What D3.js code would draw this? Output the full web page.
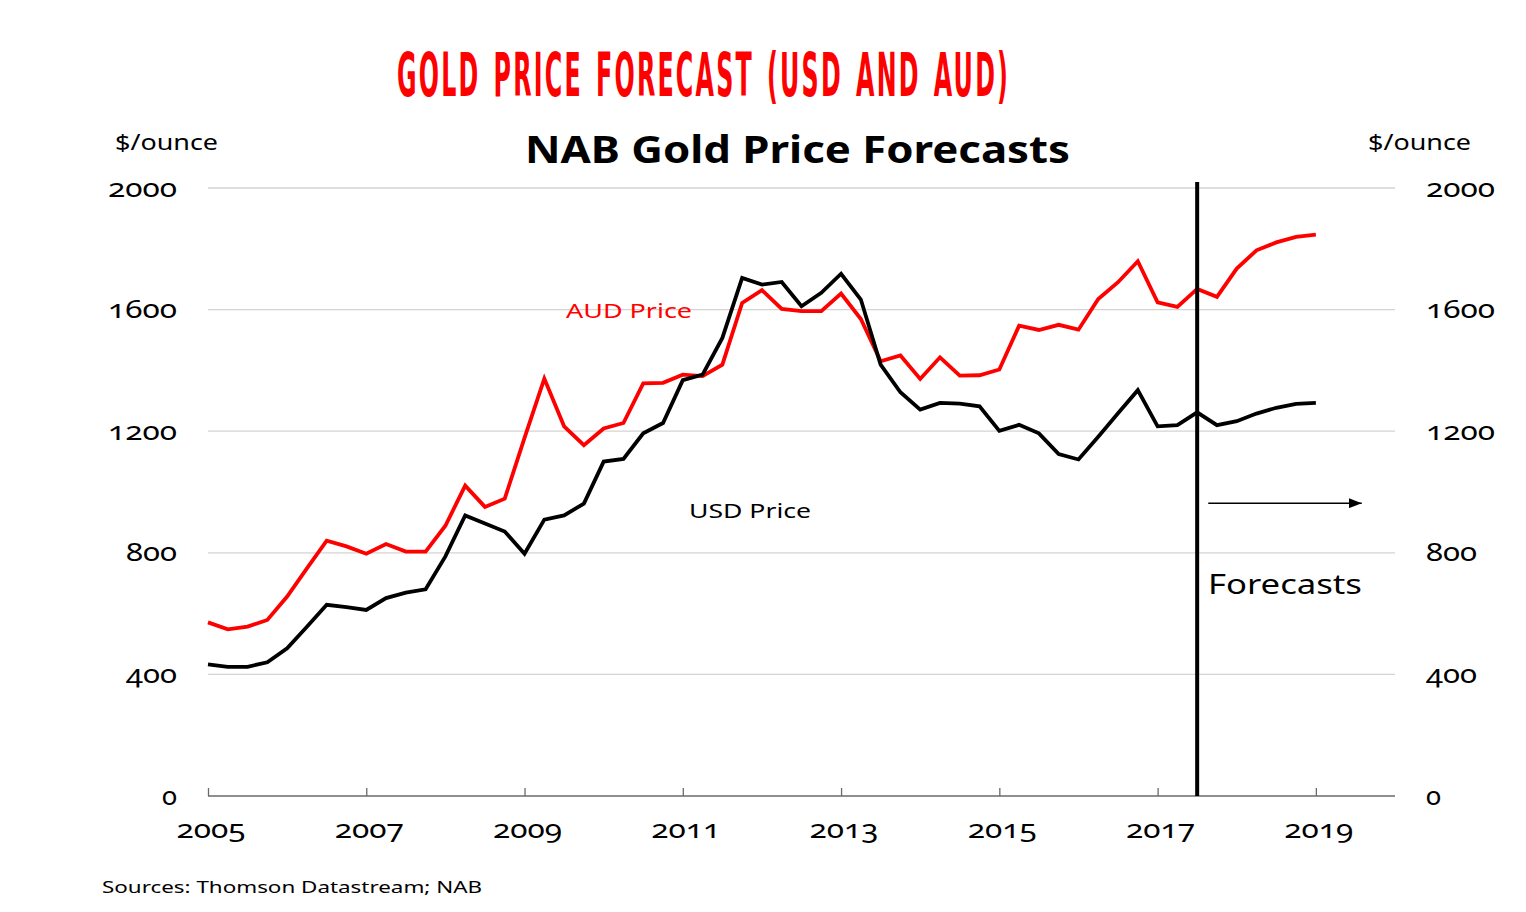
<!DOCTYPE html>
<html>
<head>
<meta charset="utf-8">
<script src="https://cdn.jsdelivr.net/npm/d3@7/dist/d3.min.js"></script>
<style>
  html, body { margin: 0; padding: 0; background: #ffffff; }
  svg { display: block; }
  text { font-family: "Noto Sans", "DejaVu Sans", sans-serif; font-variant-numeric: oldstyle-nums; }
</style>
</head>
<body>
<svg id="chart" width="1526" height="912"></svg>
<script>
// ---------- data (quarterly, 2005 Q1 .. 2019 Q1) ----------
const startYear = 2005;
const quarters = d3.range(57).map(i => startYear + i / 4);

const audPrice = [
  571, 548, 557, 579, 656, 749, 840, 821, 797, 829, 804, 804,
  889, 1021, 951, 978, 1178, 1373, 1216, 1154, 1209, 1227, 1357, 1359,
  1386, 1381, 1419, 1622, 1664, 1602, 1595, 1595, 1653, 1569, 1430, 1449,
  1372, 1443, 1383, 1384, 1403, 1547, 1533, 1550, 1534, 1635, 1690, 1759,
  1624, 1609, 1668, 1642, 1735, 1795, 1821, 1839, 1847
];
const usdPrice = [
  433, 425, 425, 440, 486, 557, 629, 621, 612, 651, 669, 680,
  788, 923, 896, 870, 797, 909, 923, 962, 1100, 1109, 1193, 1227,
  1368, 1386, 1507, 1704, 1682, 1691, 1611, 1655, 1718, 1633, 1419, 1328,
  1271, 1293, 1291, 1282, 1201, 1221, 1193, 1125, 1107, 1182, 1259, 1335,
  1216, 1220, 1262, 1220, 1233, 1258, 1277, 1290, 1293
];

const yTicks = [0, 400, 800, 1200, 1600, 2000];
const xTicks = [2005, 2007, 2009, 2011, 2013, 2015, 2017, 2019];
const forecastStart = 2017.5;

const mainTitle = "GOLD PRICE FORECAST (USD AND AUD)";
const chartTitle = "NAB Gold Price Forecasts";
const unitLabel = "$/ounce";
const sourceText = "Sources: Thomson Datastream; NAB";

// ---------- layout ----------
const svg = d3.select("#chart");
const x = d3.scaleLinear().domain([2005, 2020]).range([208, 1395]);
const y = d3.scaleLinear().domain([0, 2000]).range([796, 188]);

// helper for text with fixed rendered width
function addText(s, px, py, o) {
  const len = o.len;
  let sx = px;
  if (len && o.anchor === "end") sx = px - len;
  if (len && o.anchor === "middle") sx = px - len / 2;
  const t = svg.append("text")
    .attr("x", sx).attr("y", py)
    .attr("font-size", o.size)
    .attr("font-weight", o.weight || "normal")
    .attr("fill", o.fill || "#000")
    .attr("text-anchor", len ? "start" : (o.anchor || "start"))
    .text(s);
  if (o.family) t.style("font-family", o.family);
  if (len) t.attr("textLength", len).attr("lengthAdjust", "spacingAndGlyphs");
  return t;
}

// gridlines
svg.append("g").selectAll("line").data(yTicks.filter(d => d > 0)).join("line")
  .attr("x1", x(2005)).attr("x2", x(2020))
  .attr("y1", d => y(d)).attr("y2", d => y(d))
  .attr("stroke", "#d4d4d4").attr("stroke-width", 1.3);

// x axis (ticks pointing up)
const xAxis = d3.axisTop(x).tickValues(xTicks).tickSize(8).tickFormat("");
const gx = svg.append("g").attr("transform", `translate(0,${y(0)})`).call(xAxis);
gx.select(".domain").attr("stroke", "#6a6a6a").attr("stroke-width", 1.3).attr("d", `M${x(2005)},0H${x(2020)}`);
gx.selectAll(".tick line").attr("stroke", "#6a6a6a").attr("stroke-width", 1.3);

// x tick labels
xTicks.forEach(v => addText(String(v), x(v) + 3, 838, { size: 26, len: 69, anchor: "middle" }));

// y tick labels (left and right)
yTicks.forEach(v => {
  const s = String(v);
  const w = s.length === 1 ? 15 : (s.length === 3 ? 51 : 69);
  addText(s, 177, y(v) + 8.5, { size: 26, len: w, anchor: "end" });
  addText(s, 1426, y(v) + 8.5, { size: 26, len: w, anchor: "start" });
});

// unit labels
addText(unitLabel, 115, 150, { size: 22, len: 103 });
addText(unitLabel, 1368, 150, { size: 22, len: 103 });

// series lines
const line = d3.line().x((d, i) => x(quarters[i])).y(d => y(d));
svg.append("path").datum(audPrice).attr("d", line)
  .attr("fill", "none").attr("stroke", "#ff0000").attr("stroke-width", 3.8);
svg.append("path").datum(usdPrice).attr("d", line)
  .attr("fill", "none").attr("stroke", "#000000").attr("stroke-width", 3.8);

// forecast divider
svg.append("line")
  .attr("x1", x(forecastStart)).attr("x2", x(forecastStart))
  .attr("y1", y(2020)).attr("y2", y(0))
  .attr("stroke", "#000").attr("stroke-width", 4);

// arrow
svg.append("defs").append("marker")
  .attr("id", "arrowhead").attr("viewBox", "0 0 13 10")
  .attr("refX", 13).attr("refY", 5)
  .attr("markerWidth", 13).attr("markerHeight", 10)
  .attr("markerUnits", "userSpaceOnUse").attr("orient", "auto")
  .append("path").attr("d", "M0,0L13,5L0,10Z").attr("fill", "#000");
svg.append("line")
  .attr("x1", x(2017.64)).attr("x2", x(2019.58))
  .attr("y1", y(963)).attr("y2", y(963))
  .attr("stroke", "#000").attr("stroke-width", 1.5)
  .attr("marker-end", "url(#arrowhead)");

// annotations
addText("Forecasts", 1208, 594, { size: 27.5, len: 154 });
addText("AUD Price", 566, 318, { size: 20, len: 126, fill: "#ff0000" });
addText("USD Price", 689, 518, { size: 20, len: 122 });

// red headline: condensed look via horizontal scaling
const headG = svg.append("g");
const head = headG.append("text")
  .attr("x", 0).attr("y", 0)
  .attr("font-size", 60)
  .attr("font-weight", "bold")
  .attr("fill", "#ff0000")
  .style("font-family", "'Liberation Sans Narrow', 'DejaVu Sans Condensed', 'Liberation Sans', sans-serif")
  .style("letter-spacing", "5px")
  .style("word-spacing", "6px")
  .text(mainTitle);
const hb = head.node().getBBox();
const hWidth = hb.width - 5;
const hScale = 611 / hWidth;
headG.attr("transform", `translate(${397 - hb.x * hScale},96) scale(${hScale},1)`);

addText(chartTitle, 525, 163, { size: 37, len: 545, weight: "bold" });

// source
addText(sourceText, 102, 893, { size: 16.4, len: 380 });
</script>
</body>
</html>
